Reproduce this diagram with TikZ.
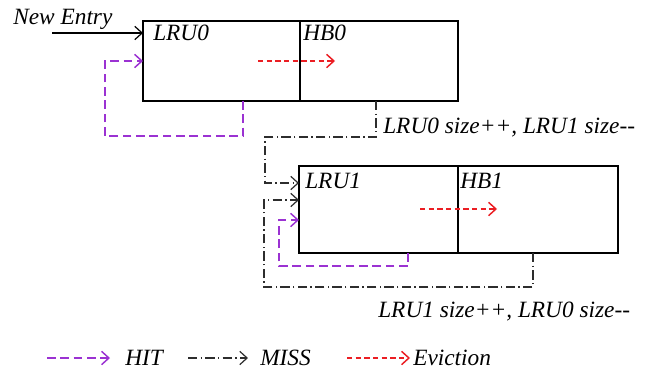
\documentclass[tikz,border=0pt]{standalone}
\usepackage{fontspec}
\setmainfont{Liberation Serif}
\usepackage{tikz}
\usetikzlibrary{positioning, arrows.meta}
\definecolor{hitpurple}{RGB}{155, 50, 210}
\definecolor{evictred}{RGB}{235, 30, 35}
\definecolor{missgray}{RGB}{45, 45, 45}

\begin{document}
\begin{tikzpicture}[x=0.75pt, y=-0.75pt,
  cell/.style={draw, line width=1.5pt, outer sep=0pt, inner sep=0pt},
  txt/.style={font=\fontsize{17.5}{19}\selectfont\itshape, inner sep=0pt},
  tip/.style={-{Straight Barb[length=5.5pt, width=10pt]}},
  hit/.style={tip, hitpurple, line width=1.1pt, dash pattern=on 6.5pt off 3.5pt},
  miss/.style={tip, missgray, line width=0.9pt, dash pattern=on 7pt off 2.5pt on 1pt off 2.5pt},
  evict/.style={tip, evictred, line width=1.1pt, dash pattern=on 4pt off 2.5pt}]
\useasboundingbox (0,0) rectangle (653,371);

% upper level
\node[cell, minimum width=117.75pt, minimum height=60pt, anchor=north west] (lru0) at (143,21) {};
\node[cell, minimum width=118.5pt, minimum height=60pt, right=0pt of lru0] (hb0) {};
\node[txt, anchor=west] (lru0lbl) at ([shift={(10,12)}]lru0.north west) {LRU0};
\node[txt, anchor=west] (hb0lbl) at ([shift={(3,12)}]hb0.north west) {HB0};

\node[txt, anchor=base west] (newentry) at (13,24) {New Entry};
\coordinate (entry) at (52,33);
\draw[tip, line width=0.9pt] (entry) -- (entry -| lru0.west);

\coordinate (hit0) at (105,136);
\draw[hit] ([shift={(21.5,0)}]lru0.south) |- (hit0) |- (lru0.west);
\draw[evict] ([shift={(-42,0)}]lru0.east) -- ([shift={(35,0)}]hb0.west);
\node[txt, anchor=west] (grow0) at ([shift={(4,27)}]hb0.south) {LRU0 size++, LRU1 size-{}-};

% lower level
\node[cell, minimum width=119.25pt, minimum height=65.25pt, anchor=north west] (lru1) at (299,166) {};
\node[cell, minimum width=120pt, minimum height=65.25pt, right=0pt of lru1] (hb1) {};
\node[txt, anchor=west] (lru1lbl) at ([shift={(6,15)}]lru1.north west) {LRU1};
\node[txt, anchor=west] (hb1lbl) at ([shift={(2,15)}]hb1.north west) {HB1};

\coordinate (miss0) at (265,137);
\draw[miss] ([shift={(-3,0)}]hb0.south) |- (miss0) |- ([shift={(0,17)}]lru1.north west);

\coordinate (hit1) at (279,266);
\draw[hit] ([shift={(29.5,0)}]lru1.south) |- (hit1) |- ([shift={(0,54)}]lru1.north west);
\draw[evict] ([shift={(-38,-0.5)}]lru1.east) -- ([shift={(39,-0.5)}]hb1.west);

\coordinate (miss1) at (264,287);
\draw[miss] ([shift={(-5,0)}]hb1.south) |- (miss1) |- ([shift={(0,34)}]lru1.north west);
\node[txt, anchor=west] (grow1) at ([shift={(-160,59)}]hb1.south) {LRU1 size++, LRU0 size-{}-};

% legend
\node[txt, anchor=west] (hitlbl) at (125,358) {HIT};
\node[txt, anchor=west] (misslbl) at (260,358) {MISS};
\node[txt, anchor=west] (evictlbl) at (413,358) {Eviction};
\coordinate (hitkey) at (47,358);
\coordinate (misskey) at (188,358);
\coordinate (evictkey) at (347,358);
\draw[hit] (hitkey) -- ([shift={(-15,0)}]hitlbl.west);
\draw[miss] (misskey) -- ([shift={(-12,0)}]misslbl.west);
\draw[evict] (evictkey) -- ([shift={(-3,0)}]evictlbl.west);
\end{tikzpicture}
\end{document}
